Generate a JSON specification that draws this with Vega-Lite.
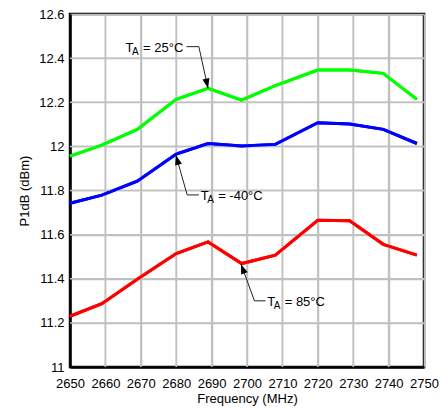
{
  "$schema": "https://vega.github.io/schema/vega-lite/v6.json",
  "autosize": {"type": "none"},
  "padding": {"left": 70, "top": 14, "right": 16, "bottom": 43},
  "width": 354,
  "height": 353,
  "config": {
    "font": "Liberation Sans",
    "view": {"stroke": "black", "strokeWidth": 2.5},
    "axis": {
      "labelFontSize": 13,
      "titleFontSize": 13,
      "labelColor": "black",
      "titleColor": "black",
      "titleFontWeight": "normal",
      "ticks": false,
      "domainColor": "black",
      "domainWidth": 2.5,
      "gridColor": "#c0c0c0",
      "gridWidth": 1.5,
      "gridOpacity": 1,
      "labelOverlap": false,
      "labelFlush": false
    },
    "axisX": {"labelPadding": 10, "titlePadding": 2},
    "axisY": {"labelPadding": 6, "titlePadding": 7}
  },
  "datasets": {
    "xgrid": [{"freq": 2660}, {"freq": 2670}, {"freq": 2680}, {"freq": 2690}, {"freq": 2700}, {"freq": 2710}, {"freq": 2720}, {"freq": 2730}, {"freq": 2740}],
    "ygrid": [{"p1db": 11.2}, {"p1db": 11.4}, {"p1db": 11.6}, {"p1db": 11.8}, {"p1db": 12}, {"p1db": 12.2}, {"p1db": 12.4}],
    "curves": [
      {"freq": 2650, "p1db": 11.956, "temp": "25°C"},
      {"freq": 2659, "p1db": 12.006, "temp": "25°C"},
      {"freq": 2669, "p1db": 12.077, "temp": "25°C"},
      {"freq": 2680, "p1db": 12.213, "temp": "25°C"},
      {"freq": 2689, "p1db": 12.263, "temp": "25°C"},
      {"freq": 2698.5, "p1db": 12.21, "temp": "25°C"},
      {"freq": 2708, "p1db": 12.275, "temp": "25°C"},
      {"freq": 2720, "p1db": 12.346, "temp": "25°C"},
      {"freq": 2729, "p1db": 12.346, "temp": "25°C"},
      {"freq": 2738.5, "p1db": 12.331, "temp": "25°C"},
      {"freq": 2748, "p1db": 12.213, "temp": "25°C"},
      {"freq": 2650, "p1db": 11.742, "temp": "-40°C"},
      {"freq": 2659, "p1db": 11.779, "temp": "-40°C"},
      {"freq": 2669, "p1db": 11.842, "temp": "-40°C"},
      {"freq": 2680, "p1db": 11.965, "temp": "-40°C"},
      {"freq": 2689, "p1db": 12.013, "temp": "-40°C"},
      {"freq": 2698.5, "p1db": 12.002, "temp": "-40°C"},
      {"freq": 2708, "p1db": 12.009, "temp": "-40°C"},
      {"freq": 2720, "p1db": 12.107, "temp": "-40°C"},
      {"freq": 2729, "p1db": 12.101, "temp": "-40°C"},
      {"freq": 2738.5, "p1db": 12.077, "temp": "-40°C"},
      {"freq": 2748, "p1db": 12.013, "temp": "-40°C"},
      {"freq": 2650, "p1db": 11.23, "temp": "85°C"},
      {"freq": 2659, "p1db": 11.287, "temp": "85°C"},
      {"freq": 2669, "p1db": 11.398, "temp": "85°C"},
      {"freq": 2680, "p1db": 11.514, "temp": "85°C"},
      {"freq": 2689, "p1db": 11.567, "temp": "85°C"},
      {"freq": 2698.5, "p1db": 11.469, "temp": "85°C"},
      {"freq": 2708, "p1db": 11.507, "temp": "85°C"},
      {"freq": 2720, "p1db": 11.665, "temp": "85°C"},
      {"freq": 2729, "p1db": 11.663, "temp": "85°C"},
      {"freq": 2738.5, "p1db": 11.556, "temp": "85°C"},
      {"freq": 2748, "p1db": 11.507, "temp": "85°C"}
    ],
    "notes": [
      {"id": "25", "rest": "= 25°C", "tip_f": 2689.0, "tip_p": 12.262, "corner_f": 2686.4, "corner_p": 12.452, "hend_f": 2682.9, "text_f": 2665.7},
      {"id": "-40", "rest": "= -40°C", "tip_f": 2679.9, "tip_p": 11.961, "corner_f": 2683.1, "corner_p": 11.78, "hend_f": 2686.4, "text_f": 2686.9},
      {"id": "85", "rest": "= 85°C", "tip_f": 2698.3, "tip_p": 11.467, "corner_f": 2702.1, "corner_p": 11.3, "hend_f": 2705.2, "text_f": 2705.7}
    ]
  },
  "layer": [
    {
      "data": {"name": "curves"},
      "mark": {"type": "line", "strokeWidth": 3},
      "encoding": {
        "x": {"field": "freq", "type": "quantitative", "scale": {"domain": [2650, 2750], "nice": false, "zero": false},
          "axis": {"title": "Frequency (MHz)", "format": "d", "tickCount": 10, "grid": true}},
        "y": {"field": "p1db", "type": "quantitative", "scale": {"domain": [11, 12.6], "nice": false, "zero": false},
          "axis": {"title": "P1dB (dBm)", "format": "~g", "tickCount": 8, "grid": true}},
        "color": {
          "field": "temp", "type": "nominal",
          "scale": {"domain": ["25°C", "-40°C", "85°C"], "range": ["#00ff00", "#0000ff", "#ff0000"]},
          "legend": null
        }
      }
    },
    {
      "data": {"name": "xgrid"},
      "mark": {"type": "rule", "color": "#c0c0c0", "strokeWidth": 1.5},
      "encoding": {
        "x": {"field": "freq", "type": "quantitative", "axis": {"title": "Frequency (MHz)", "format": "d", "tickCount": 10, "grid": true}}
      }
    },
    {
      "data": {"name": "ygrid"},
      "mark": {"type": "rule", "color": "#c0c0c0", "strokeWidth": 1.5},
      "encoding": {
        "y": {"field": "p1db", "type": "quantitative", "axis": {"title": "P1dB (dBm)", "format": "~g", "tickCount": 8, "grid": true}}
      }
    },
    {
      "data": {"name": "curves"},
      "mark": {"type": "line", "strokeWidth": 3},
      "encoding": {
        "x": {"field": "freq", "type": "quantitative", "axis": {"title": "Frequency (MHz)", "format": "d", "tickCount": 10, "grid": true}},
        "y": {"field": "p1db", "type": "quantitative", "axis": {"title": "P1dB (dBm)", "format": "~g", "tickCount": 8, "grid": true}},
        "color": {"field": "temp", "type": "nominal", "legend": null}
      }
    },
    {
      "data": {"name": "notes"},
      "mark": {"type": "rule", "color": "#222222", "strokeWidth": 1},
      "encoding": {
        "x": {"field": "tip_f", "type": "quantitative", "axis": {"title": "Frequency (MHz)", "format": "d", "tickCount": 10, "grid": true}},
        "y": {"field": "tip_p", "type": "quantitative", "axis": {"title": "P1dB (dBm)", "format": "~g", "tickCount": 8, "grid": true}},
        "x2": {"field": "corner_f"},
        "y2": {"field": "corner_p"}
      }
    },
    {
      "data": {"name": "notes"},
      "mark": {"type": "rule", "color": "#222222", "strokeWidth": 1},
      "encoding": {
        "x": {"field": "corner_f", "type": "quantitative", "axis": {"title": "Frequency (MHz)", "format": "d", "tickCount": 10, "grid": true}},
        "y": {"field": "corner_p", "type": "quantitative", "axis": {"title": "P1dB (dBm)", "format": "~g", "tickCount": 8, "grid": true}},
        "x2": {"field": "hend_f"}
      }
    },
    {
      "data": {"name": "notes"},
      "transform": [{"filter": "datum.id == '25'"}],
      "mark": {"type": "point", "shape": "M0,0 L-0.35,-1 L0.35,-1 Z", "filled": true, "opacity": 1, "color": "black", "size": 400, "angle": 347.8},
      "encoding": {
        "x": {"field": "tip_f", "type": "quantitative", "axis": {"title": "Frequency (MHz)", "format": "d", "tickCount": 10, "grid": true}},
        "y": {"field": "tip_p", "type": "quantitative", "axis": {"title": "P1dB (dBm)", "format": "~g", "tickCount": 8, "grid": true}}
      }
    },
    {
      "data": {"name": "notes"},
      "transform": [{"filter": "datum.id == '-40'"}],
      "mark": {"type": "point", "shape": "M0,0 L-0.35,-1 L0.35,-1 Z", "filled": true, "opacity": 1, "color": "black", "size": 400, "angle": 164.4},
      "encoding": {
        "x": {"field": "tip_f", "type": "quantitative", "axis": {"title": "Frequency (MHz)", "format": "d", "tickCount": 10, "grid": true}},
        "y": {"field": "tip_p", "type": "quantitative", "axis": {"title": "P1dB (dBm)", "format": "~g", "tickCount": 8, "grid": true}}
      }
    },
    {
      "data": {"name": "notes"},
      "transform": [{"filter": "datum.id == '85'"}],
      "mark": {"type": "point", "shape": "M0,0 L-0.35,-1 L0.35,-1 Z", "filled": true, "opacity": 1, "color": "black", "size": 400, "angle": 159.8},
      "encoding": {
        "x": {"field": "tip_f", "type": "quantitative", "axis": {"title": "Frequency (MHz)", "format": "d", "tickCount": 10, "grid": true}},
        "y": {"field": "tip_p", "type": "quantitative", "axis": {"title": "P1dB (dBm)", "format": "~g", "tickCount": 8, "grid": true}}
      }
    },
    {
      "data": {"name": "notes"},
      "mark": {"type": "text", "text": "T", "align": "left", "baseline": "alphabetic", "dy": 5, "fontSize": 13, "font": "Liberation Sans", "color": "black"},
      "encoding": {
        "x": {"field": "text_f", "type": "quantitative", "axis": {"title": "Frequency (MHz)", "format": "d", "tickCount": 10, "grid": true}},
        "y": {"field": "corner_p", "type": "quantitative", "axis": {"title": "P1dB (dBm)", "format": "~g", "tickCount": 8, "grid": true}}
      }
    },
    {
      "data": {"name": "notes"},
      "mark": {"type": "text", "text": "A", "align": "left", "baseline": "alphabetic", "dx": 6.5, "dy": 8.3, "fontSize": 10, "font": "Liberation Sans", "color": "black"},
      "encoding": {
        "x": {"field": "text_f", "type": "quantitative", "axis": {"title": "Frequency (MHz)", "format": "d", "tickCount": 10, "grid": true}},
        "y": {"field": "corner_p", "type": "quantitative", "axis": {"title": "P1dB (dBm)", "format": "~g", "tickCount": 8, "grid": true}}
      }
    },
    {
      "data": {"name": "notes"},
      "mark": {"type": "text", "align": "left", "baseline": "alphabetic", "dx": 17.5, "dy": 5, "fontSize": 13, "font": "Liberation Sans", "color": "black"},
      "encoding": {
        "x": {"field": "text_f", "type": "quantitative", "axis": {"title": "Frequency (MHz)", "format": "d", "tickCount": 10, "grid": true}},
        "y": {"field": "corner_p", "type": "quantitative", "axis": {"title": "P1dB (dBm)", "format": "~g", "tickCount": 8, "grid": true}},
        "text": {"field": "rest"}
      }
    }
  ]
}
